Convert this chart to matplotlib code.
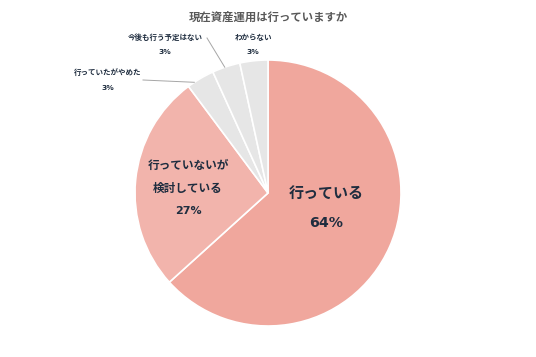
import numpy as np
import matplotlib
matplotlib.use("Agg")
import matplotlib.pyplot as plt

plt.rcParams['font.family'] = ['Noto Sans CJK JP', 'DejaVu Sans']

# -------------------------------
# DATA
# -------------------------------
TITLE = "現在資産運用は行っていますか"
labels = ["行っている", "行っていないが\n検討している", "行っていたがやめた",
          "今後も行う予定はない", "わからない"]
shares = [63.3, 26.5, 3.4, 3.4, 3.4]
pct_labels = ["64%", "27%", "3%", "3%", "3%"]
colors = ["#F0A79D", "#F2B4AC", "#E6E6E6", "#E6E6E6", "#E6E6E6"]

W, H = 536, 357
TEXT_COLOR = "#1F2D3F"
PCT_FONT = ['DejaVu Sans']


def px(x, y):
    """pixel coords (from top-left) -> figure fraction"""
    return x / W, 1 - y / H


fig = plt.figure(figsize=(W / 100, H / 100), dpi=100)
fig.patch.set_facecolor("white")

# pie centre (268, 193), radius 133 px
cx, cy, r = 268, 193, 133
ax = fig.add_axes([(cx - r) / W, (H - cy - r) / H, 2 * r / W, 2 * r / H])
wedges, _ = ax.pie(shares, colors=colors, startangle=90, counterclock=False,
                   wedgeprops=dict(edgecolor="white", linewidth=1.2))
ax.set_xlim(-1, 1)
ax.set_ylim(-1, 1)
ax.set_aspect("equal")
ax.axis("off")

fig.text(*px(268, 17), TITLE, ha="center", va="center", fontsize=8.2,
         fontweight="bold", color="#595959")

# big labels inside the pie
fig.text(*px(326, 193), labels[0], ha="center", va="center", fontsize=10.8,
         fontweight="bold", color=TEXT_COLOR)
fig.text(*px(326, 223), pct_labels[0], ha="center", va="center", fontsize=10.2,
         fontweight="bold", color=TEXT_COLOR, family=PCT_FONT)

fig.text(*px(188, 165), "行っていないが", ha="center", va="center", fontsize=8.4,
         fontweight="bold", color=TEXT_COLOR)
fig.text(*px(188, 188), "検討している", ha="center", va="center", fontsize=8.4,
         fontweight="bold", color=TEXT_COLOR)
fig.text(*px(188, 211), pct_labels[1], ha="center", va="center", fontsize=8.0,
         fontweight="bold", color=TEXT_COLOR, family=PCT_FONT)

# small outside labels
small = [(108, 72, 88), (165, 37, 52), (253, 37, 52)]
for (x, y1, y2), lab, p in zip(small, labels[2:], pct_labels[2:]):
    fig.text(*px(x, y1), lab, ha="center", va="center", fontsize=5.4,
             fontweight="bold", color=TEXT_COLOR)
    fig.text(*px(x, y2), p, ha="center", va="center", fontsize=5.4,
             fontweight="bold", color=TEXT_COLOR, family=PCT_FONT)


def edge_point(w, frac):
    ang = np.deg2rad(w.theta1 + (w.theta2 - w.theta1) * frac)
    return cx + r * np.cos(ang), cy - r * np.sin(ang)


# leader lines
ex, ey = edge_point(wedges[2], 0.75)
fig.add_artist(plt.Line2D([143 / W, ex / W], [1 - 80 / H, 1 - ey / H],
                          color="#A6A6A6", linewidth=0.7))
ex, ey = edge_point(wedges[3], 0.55)
fig.add_artist(plt.Line2D([207 / W, ex / W], [1 - 38 / H, 1 - ey / H],
                          color="#A6A6A6", linewidth=0.7))

fig.savefig("out.png", dpi=100, facecolor="white")
